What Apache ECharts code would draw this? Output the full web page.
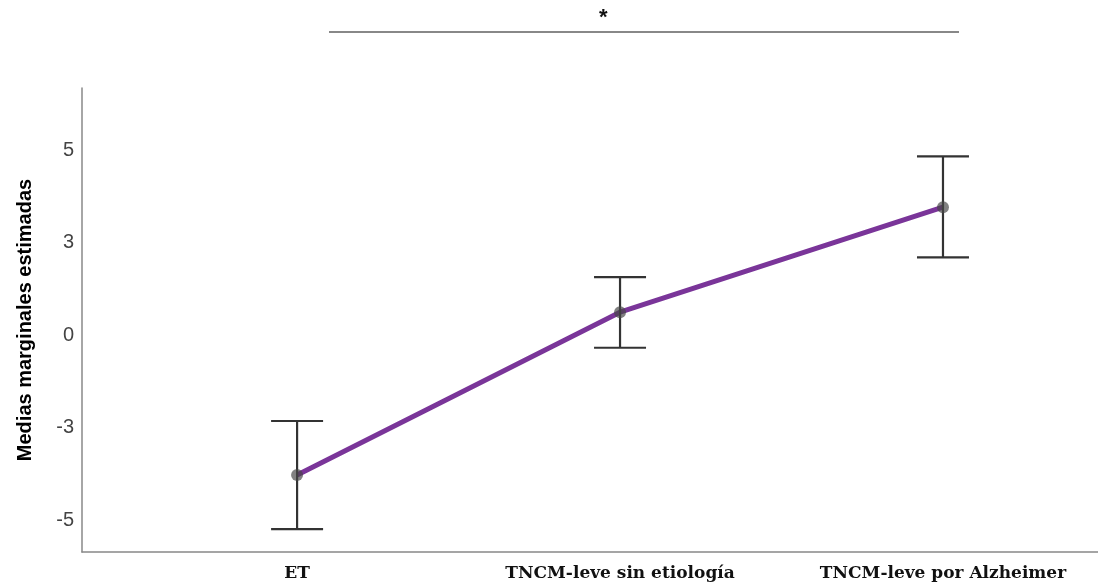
<!DOCTYPE html>
<html>
<head>
<meta charset="utf-8">
<script src="https://cdn.jsdelivr.net/npm/echarts@6/dist/echarts.min.js"></script>
<style>
  html, body { margin: 0; padding: 0; background: #ffffff; }
  #chart { width: 1098px; height: 584px; }
</style>
</head>
<body>
<div id="chart"></div>
<script>
// Group names along the x axis
const categories = ['ET', 'TNCM-leve sin etiología', 'TNCM-leve por Alzheimer'];
// Estimated marginal means per group
const means = [-3.78, 0.62, 3.46];
// 95% confidence interval bounds per group
const lower = [-5.24, -0.34, 2.10];
const upper = [-2.32, 1.57, 4.83];
// Y axis tick positions and the labels printed at them
const yTickValues = [-5, -2.5, 0, 2.5, 5];
const yTickLabels = ['-5', '-3', '0', '3', '5'];

const xPos = categories.map((_, i) => i + 1);
const lineData = means.map((m, i) => [xPos[i], m]);
const barData = means.map((m, i) => [xPos[i], lower[i], upper[i]]);

const chart = echarts.init(document.getElementById('chart'));

chart.setOption({
  animation: false,
  backgroundColor: '#ffffff',
  grid: { left: 82, right: 0, top: 88, bottom: 32, containLabel: false, outerBoundsMode: 'none' },
  xAxis: {
    type: 'value',
    min: 0.334,
    max: 3.48,
    splitLine: { show: false },
    axisTick: { show: false },
    axisLine: { show: true, onZero: false, lineStyle: { color: '#888888', width: 1.5 } },
    axisLabel: {
      customValues: xPos,
      formatter: v => categories[Math.round(v) - 1] || '',
      fontFamily: '"DejaVu Serif", "Liberation Serif", serif',
      fontWeight: 'bold',
      fontSize: 17,
      color: '#111111',
      margin: 13
    }
  },
  yAxis: {
    type: 'value',
    min: -5.86,
    max: 6.68,
    name: 'Medias marginales estimadas',
    nameLocation: 'middle',
    nameGap: 47,
    nameTextStyle: {
      fontFamily: '"Liberation Sans", Arial, sans-serif',
      fontWeight: 'bold',
      fontSize: 20,
      color: '#000000'
    },
    splitLine: { show: false },
    axisTick: { show: false },
    axisLine: { show: true, lineStyle: { color: '#888888', width: 1.5 } },
    axisLabel: {
      customValues: yTickValues,
      formatter: v => {
        const k = yTickValues.findIndex(t => Math.abs(t - v) < 1e-6);
        return k >= 0 ? yTickLabels[k] : '';
      },
      fontFamily: '"Liberation Sans", Arial, sans-serif',
      fontSize: 20,
      color: '#444444',
      margin: 8
    }
  },
  series: [
    {
      type: 'line',
      data: lineData,
      symbol: 'none',
      lineStyle: { color: '#7a3599', width: 5 },
      z: 2
    },
    {
      type: 'custom',
      data: barData,
      z: 3,
      renderItem: (params, api) => {
        const x = api.value(0);
        const lo = api.coord([x, api.value(1)]);
        const hi = api.coord([x, api.value(2)]);
        const half = 26;
        const style = { stroke: '#333333', lineWidth: 2.2, fill: null };
        return {
          type: 'group',
          children: [
            { type: 'line', shape: { x1: lo[0], y1: lo[1], x2: hi[0], y2: hi[1] }, style },
            { type: 'line', shape: { x1: hi[0] - half, y1: hi[1], x2: hi[0] + half, y2: hi[1] }, style },
            { type: 'line', shape: { x1: lo[0] - half, y1: lo[1], x2: lo[0] + half, y2: lo[1] }, style }
          ]
        };
      }
    },
    {
      type: 'scatter',
      data: lineData,
      symbol: 'circle',
      symbolSize: 12,
      itemStyle: { color: 'rgba(70,70,70,0.85)' },
      z: 4
    }
  ],
  graphic: [
    // significance bracket between the groups
    {
      type: 'line',
      shape: { x1: 329, y1: 32, x2: 959, y2: 32 },
      style: { stroke: '#888888', lineWidth: 2 }
    },
    {
      type: 'text',
      left: 599,
      top: 7,
      style: {
        text: '*',
        fontFamily: '"Liberation Sans", Arial, sans-serif',
        fontWeight: 'bold',
        fontSize: 22,
        fill: '#111111'
      }
    }
  ]
});
</script>
</body>
</html>
